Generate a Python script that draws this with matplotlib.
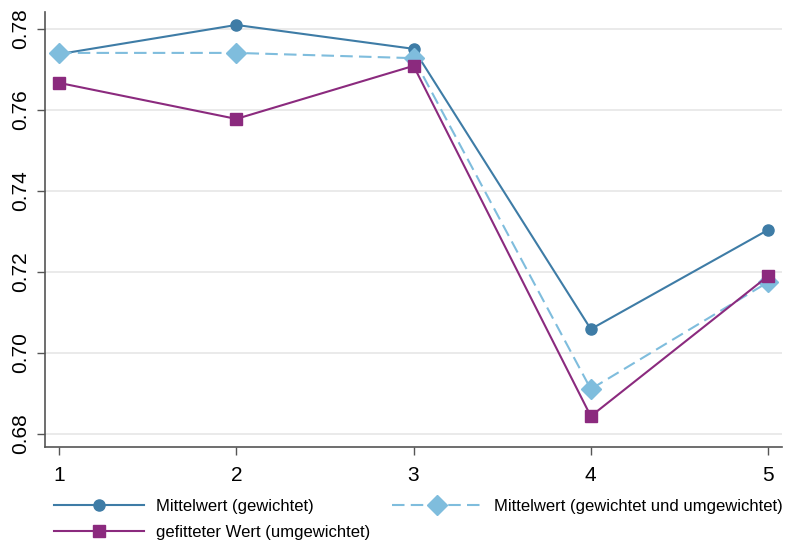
import matplotlib
matplotlib.use("Agg")
import matplotlib.pyplot as plt

plt.rcParams['font.family'] = ['Liberation Sans', 'DejaVu Sans']

x = [1, 2, 3, 4, 5]
mean_weighted = [0.7738, 0.7810, 0.7751, 0.7059, 0.7304]
mean_both = [0.7741, 0.7741, 0.7728, 0.6911, 0.7175]
fitted = [0.7667, 0.7578, 0.7709, 0.6844, 0.7190]
yticks = [0.68, 0.70, 0.72, 0.74, 0.76, 0.78]
labels = ["Mittelwert (gewichtet)", "Mittelwert (gewichtet und umgewichtet)",
          "gefitteter Wert (umgewichtet)"]

c1 = '#3E7CA6'
c2 = '#7FBDDD'
c3 = '#8B2A7E'

fig = plt.figure(figsize=(7.86, 5.45), dpi=100)
ax = fig.add_axes([0.0573, 0.1798, 0.9377, 0.7982])

l1, = ax.plot(x, mean_weighted, color=c1, lw=1.5, marker='o', ms=8, label=labels[0], zorder=3)
l2, = ax.plot(x, mean_both, color=c2, lw=1.5, ls=(0, (6, 3)), marker='D', ms=10, label=labels[1], zorder=3)
l3, = ax.plot(x, fitted, color=c3, lw=1.5, marker='s', ms=8, label=labels[2], zorder=3)

ax.set_xlim(0.921, 5.079)
ax.set_ylim(0.6768, 0.7842)
ax.set_xticks(x)
ax.set_yticks(yticks)
ax.set_yticklabels([f"{v:.2f}" for v in yticks], rotation=90, va='center')
ax.tick_params(axis='both', labelsize=15, length=6, width=1, color='#555555', direction='out')
ax.tick_params(axis='x', pad=8)
ax.tick_params(axis='y', pad=5)
ax.grid(axis='y', color='#E6E6E6', lw=1.2)
ax.set_axisbelow(True)
for s in ['top', 'right']:
    ax.spines[s].set_visible(False)
for s in ['left', 'bottom']:
    ax.spines[s].set_color('#555555')
    ax.spines[s].set_linewidth(1.2)

fig.legend([l1, l3, l2], [labels[0], labels[2], labels[1]], ncol=2,
           loc='center left', bbox_to_anchor=(0.0687, 0.047), frameon=False,
           fontsize=12, handlelength=5.4, columnspacing=1.3, labelspacing=0.66,
           handletextpad=0.72, borderpad=0, borderaxespad=0)

fig.savefig('out.png', dpi=100)
